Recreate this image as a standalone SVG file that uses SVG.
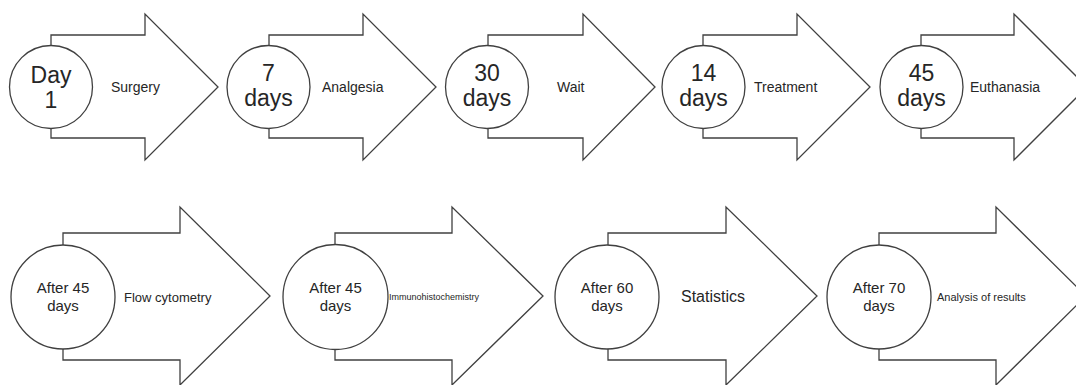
<svg xmlns="http://www.w3.org/2000/svg" width="1076" height="385" viewBox="0 0 1076 385">
<style>
.bg{fill:#ffffff}
.arrow{fill:#ffffff;stroke:#404040;stroke-width:1.3;stroke-linejoin:miter}
.circ{fill:#ffffff;stroke:#404040;stroke-width:1.3}
text{font-family:"Liberation Sans",Arial,sans-serif;fill:#262626}
.big{font-size:23px;text-anchor:middle}
.mid{font-size:15px;text-anchor:middle}
.lbl{font-size:14px}
</style>
<rect class="bg" x="0" y="0" width="1076" height="385"/>
<g id="connectors"></g>
<g id="step1">
<path class="arrow" d="M51,35 H145 V14 L218,87 L145,160 V138 H51 Z"/>
<circle class="circ" cx="51" cy="87" r="41.5"/>
<text class="big" x="51" y="83">Day</text>
<text class="big" x="51" y="108">1</text>
<text class="lbl" x="111" y="92">Surgery</text>
</g>
<g id="step2">
<path class="arrow" d="M269,35 H363 V14 L436,87 L363,160 V138 H269 Z"/>
<circle class="circ" cx="268.5" cy="87" r="41.5"/>
<text class="big" x="268.5" y="81">7</text>
<text class="big" x="268.5" y="106">days</text>
<text class="lbl" x="322" y="92">Analgesia</text>
</g>
<g id="step3">
<path class="arrow" d="M488,35 H583 V14 L655,87 L583,160 V138 H488 Z"/>
<circle class="circ" cx="487" cy="87" r="41.5"/>
<text class="big" x="487" y="81">30</text>
<text class="big" x="487" y="106">days</text>
<text class="lbl" x="557" y="92">Wait</text>
</g>
<g id="step4">
<path class="arrow" d="M703,35 H797 V14 L870,87 L797,160 V138 H703 Z"/>
<circle class="circ" cx="703.5" cy="87" r="41.5"/>
<text class="big" x="703.5" y="81">14</text>
<text class="big" x="703.5" y="106">days</text>
<text class="lbl" x="754" y="92">Treatment</text>
</g>
<g id="step5">
<path class="arrow" d="M921,35 H1014 V14 L1087,87 L1014,160 V138 H921 Z"/>
<circle class="circ" cx="921.5" cy="87" r="41.5"/>
<text class="big" x="921.5" y="81">45</text>
<text class="big" x="921.5" y="106">days</text>
<text class="lbl" x="970" y="92">Euthanasia</text>
</g>
<g id="step6">
<path class="arrow" d="M63,233 H180 V207 L270,296 L180,385 V360 H63 Z"/>
<circle class="circ" cx="63" cy="297" r="52"/>
<text class="mid" x="63" y="293">After 45</text>
<text class="mid" x="63" y="311">days</text>
<text x="124" y="302" style="font-size:13px">Flow cytometry</text>
</g>
<g id="step7">
<path class="arrow" d="M335,233 H452 V207 L543,296 L452,385 V360 H335 Z"/>
<circle class="circ" cx="335.5" cy="297" r="52.5"/>
<text class="mid" x="335.5" y="293">After 45</text>
<text class="mid" x="335.5" y="311">days</text>
<text x="389" y="300" style="font-size:9px">Immunohistochemistry</text>
</g>
<g id="step8">
<path class="arrow" d="M608,233 H726 V207 L817,296 L726,385 V360 H608 Z"/>
<circle class="circ" cx="607" cy="297" r="52"/>
<text class="mid" x="607" y="293">After 60</text>
<text class="mid" x="607" y="311">days</text>
<text x="681" y="302" style="font-size:16px">Statistics</text>
</g>
<g id="step9">
<path class="arrow" d="M879,233 H996 V207 L1086,296 L996,385 V360 H879 Z"/>
<circle class="circ" cx="879" cy="297" r="52"/>
<text class="mid" x="879" y="293">After 70</text>
<text class="mid" x="879" y="311">days</text>
<text x="937" y="301" style="font-size:11px">Analysis of results</text>
</g>
</svg>
